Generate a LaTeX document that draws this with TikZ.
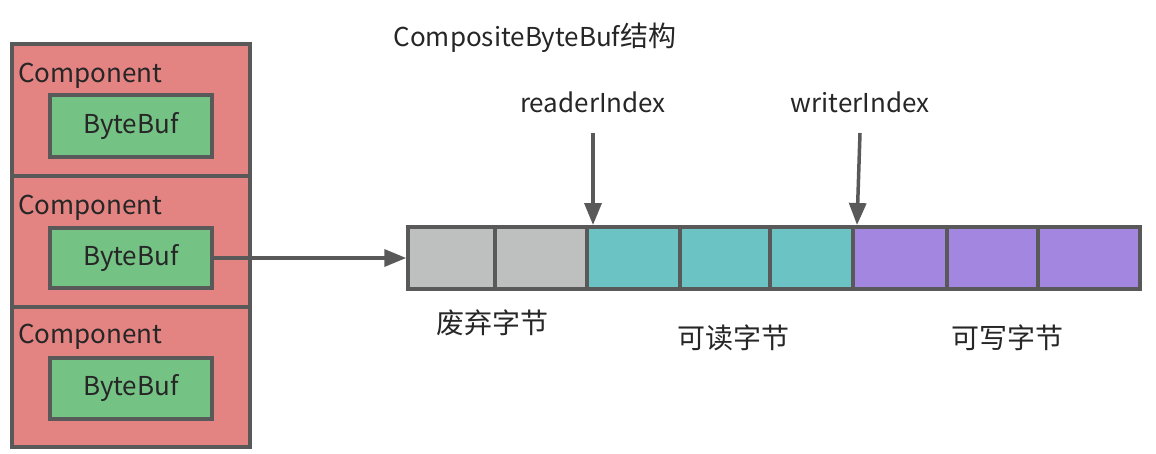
\documentclass[tikz,border=0pt]{standalone}
\usepackage{fontspec}
\setmainfont{Noto Sans CJK SC}
\usetikzlibrary{arrows.meta}
\definecolor{compred}{HTML}{E48482}
\definecolor{bbgreen}{HTML}{75C285}
\definecolor{cellgray}{HTML}{BEC0BF}
\definecolor{cellteal}{HTML}{6CC3C4}
\definecolor{cellpurple}{HTML}{A286E0}
\definecolor{edgegray}{HTML}{595959}
\definecolor{txt}{HTML}{262626}
\newcommand{\cjksz}{\fontsize{28}{32}\selectfont}
\tikzset{
  box/.style={draw=edgegray, line width=3.5pt, inner sep=0pt, text=txt},
  compbox/.style={box, fill=compred, minimum width=238pt},
  bbbox/.style={box, fill=bbgreen, minimum width=162pt, font=\fontsize{26}{30}\selectfont},
  cell/.style={box, minimum height=62pt},
  lbl/.style={text=txt, inner sep=0pt, font=\fontsize{26}{30}\selectfont},
  cjklbl/.style={text=txt, inner sep=0pt, font=\cjksz},
  arr/.style={draw=edgegray, line width=3.5pt, -{Triangle[length=22pt,width=17pt]}}
}
\begin{document}
\begin{tikzpicture}[x=1pt,y=-1pt]
\useasboundingbox (0,0) rectangle (1156,453);
% components
\node[compbox, minimum height=132pt] (c1) at (131,110) {};
\node[compbox, minimum height=131pt] (c2) at (131,241.5) {};
\node[compbox, minimum height=140pt] (c3) at (131,377) {};
\node[lbl, anchor=west] (t1) at (18,76) {Component};
\node[lbl, anchor=west] (t2) at (18,208) {Component};
\node[lbl, anchor=west] (t3) at (18,337) {Component};
\node[bbbox, minimum height=62pt] (b1) at (131,126) {ByteBuf};
\node[bbbox, minimum height=60pt] (b2) at (131,258) {ByteBuf};
\node[bbbox, minimum height=61pt] (b3) at (131,388.5) {ByteBuf};
% byte cells
\node[cell, fill=cellgray, minimum width=87pt] (k1) at (451.5,258) {};
\node[cell, fill=cellgray, minimum width=92pt] (k2) at (541,258) {};
\node[cell, fill=cellteal, minimum width=93pt] (k3) at (633.5,258) {};
\node[cell, fill=cellteal, minimum width=90pt] (k4) at (725,258) {};
\node[cell, fill=cellteal, minimum width=83pt] (k5) at (811.5,258) {};
\node[cell, fill=cellpurple, minimum width=94pt] (k6) at (900,258) {};
\node[cell, fill=cellpurple, minimum width=91pt] (k7) at (992.5,258) {};
\node[cell, fill=cellpurple, minimum width=102pt] (k8) at (1089,258) {};
% texts
\node[lbl] (title) at (535,38) {CompositeByteBuf{\cjksz 结构}};
\node[lbl] (ri) at (593,102) {readerIndex};
\node[lbl] (wi) at (860,102) {writerIndex};
\node[cjklbl] (l1) at (492,323) {废弃字节};
\node[cjklbl] (l2) at (733,338) {可读字节};
\node[cjklbl] (l3) at (1007,338) {可写字节};
% arrows
\coordinate (ra) at (593,133);
\coordinate (rb) at (593,225);
\coordinate (wa) at (860,133);
\coordinate (wb) at (857,225);
\draw[arr] (ra) -- (rb);
\draw[arr] (wa) -- (wb);
\draw[arr] (b2.east) -- (k1.west);
\end{tikzpicture}
\end{document}
